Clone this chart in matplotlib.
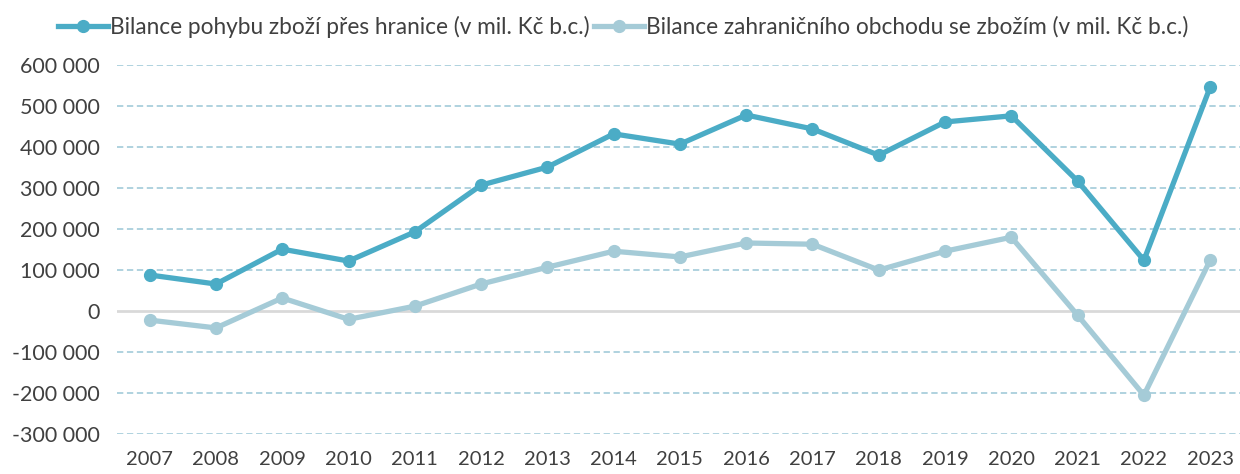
import numpy as np
import matplotlib.pyplot as plt
from matplotlib.ticker import FuncFormatter

# data
roky = list(range(2007, 2024))
pohyb = [88000, 66000, 151000, 122000, 193000, 307000, 351000, 432000, 407000,
         478000, 444000, 380000, 461000, 476000, 317000, 124000, 546000]
obchod = [-22000, -41000, 32000, -20000, 12000, 66000, 107000, 146000, 132000,
          166000, 163000, 100000, 146000, 180000, -10000, -205000, 124000]

plt.rcParams['font.family'] = ['Lato', 'DejaVu Sans']

fig = plt.figure(figsize=(12.4, 4.74), dpi=100)
ax = fig.add_axes([0.094, 0.084, 0.906, 0.779])

for y in range(-300000, 600001, 100000):
    if y == 0:
        ax.axhline(0, color='#d9d9d9', lw=2, zorder=1)
    else:
        ax.axhline(y, color='#a9cfdc', lw=1.3, ls=(0, (3.5, 2)), zorder=1)

ax.plot(roky, pohyb, color='#4bacc6', lw=3.8, marker='o', ms=8.5,
        label='Bilance pohybu zboží přes hranice (v mil. Kč b.c.)', zorder=3)
ax.plot(roky, obchod, color='#a5cbd7', lw=3.8, marker='o', ms=8.5,
        label='Bilance zahraničního obchodu se zbožím (v mil. Kč b.c.)', zorder=2)

ax.set_ylim(-300000, 600000)
ax.set_xlim(2006.5, 2023.45)
ax.set_yticks(range(-300000, 600001, 100000))
ax.yaxis.set_major_formatter(FuncFormatter(lambda v, p: f"{int(v):,}".replace(",", " ")))
ax.set_xticks(roky)
ax.tick_params(length=0, colors='#404040')
ax.tick_params(axis='x', labelsize=14.5, pad=12)
ax.tick_params(axis='y', labelsize=15.5, pad=12)
for s in ax.spines.values():
    s.set_visible(False)

fig.legend(loc='center', bbox_to_anchor=(0.5025, 0.943), ncol=2, frameon=False,
           fontsize=16.3, labelcolor='#404040', handlelength=2.2, handletextpad=0.1,
           columnspacing=0.2, borderaxespad=0, borderpad=0)

fig.savefig('out.png', dpi=100)
